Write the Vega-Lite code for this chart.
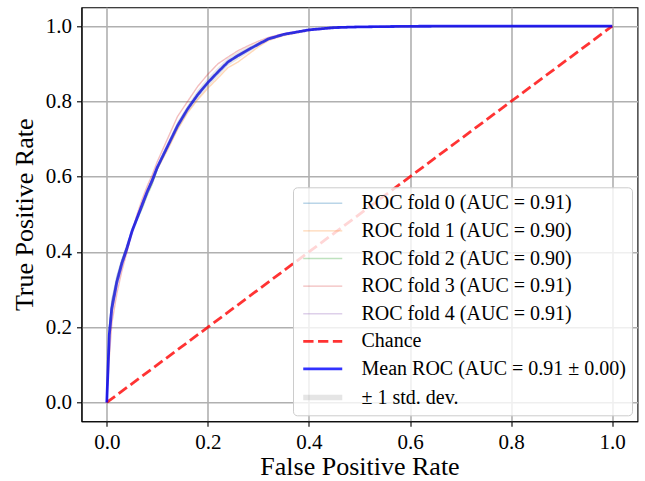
{
  "$schema": "https://vega.github.io/schema/vega-lite/v6.json",
  "width": 556,
  "height": 414,
  "autosize": {"type": "none"},
  "padding": {"left": 81.5, "top": 7.3, "right": 7.5, "bottom": 59.7},
  "datasets": {
    "roc": [
      {"x": 0, "f0": 0, "f1": 0, "f2": 0, "f3": 0, "f4": 0, "mean": 0, "lo": 0, "hi": 0},
      {"x": 0.005, "f0": 0.2, "f1": 0.17, "f2": 0.19, "f3": 0.12, "f4": 0.2, "mean": 0.18, "lo": 0.15, "hi": 0.21},
      {"x": 0.01, "f0": 0.27, "f1": 0.24, "f2": 0.26, "f3": 0.21, "f4": 0.27, "mean": 0.25, "lo": 0.225, "hi": 0.275},
      {"x": 0.02, "f0": 0.335, "f1": 0.32, "f2": 0.325, "f3": 0.29, "f4": 0.33, "mean": 0.32, "lo": 0.303, "hi": 0.337},
      {"x": 0.03, "f0": 0.38, "f1": 0.37, "f2": 0.375, "f3": 0.35, "f4": 0.38, "mean": 0.37, "lo": 0.358, "hi": 0.382},
      {"x": 0.04, "f0": 0.415, "f1": 0.405, "f2": 0.415, "f3": 0.4, "f4": 0.42, "mean": 0.41, "lo": 0.403, "hi": 0.417},
      {"x": 0.05, "f0": 0.46, "f1": 0.45, "f2": 0.455, "f3": 0.455, "f4": 0.46, "mean": 0.455, "lo": 0.451, "hi": 0.459},
      {"x": 0.06, "f0": 0.49, "f1": 0.49, "f2": 0.485, "f3": 0.5, "f4": 0.495, "mean": 0.49, "lo": 0.486, "hi": 0.494},
      {"x": 0.07, "f0": 0.53, "f1": 0.52, "f2": 0.515, "f3": 0.54, "f4": 0.53, "mean": 0.525, "lo": 0.518, "hi": 0.532},
      {"x": 0.08, "f0": 0.56, "f1": 0.555, "f2": 0.55, "f3": 0.575, "f4": 0.565, "mean": 0.56, "lo": 0.553, "hi": 0.567},
      {"x": 0.09, "f0": 0.595, "f1": 0.585, "f2": 0.58, "f3": 0.605, "f4": 0.595, "mean": 0.59, "lo": 0.582, "hi": 0.598},
      {"x": 0.1, "f0": 0.625, "f1": 0.62, "f2": 0.62, "f3": 0.64, "f4": 0.625, "mean": 0.625, "lo": 0.618, "hi": 0.632},
      {"x": 0.12, "f0": 0.68, "f1": 0.67, "f2": 0.678, "f3": 0.7, "f4": 0.68, "mean": 0.68, "lo": 0.67, "hi": 0.69},
      {"x": 0.14, "f0": 0.74, "f1": 0.725, "f2": 0.732, "f3": 0.76, "f4": 0.735, "mean": 0.735, "lo": 0.723, "hi": 0.747},
      {"x": 0.16, "f0": 0.78, "f1": 0.77, "f2": 0.78, "f3": 0.8, "f4": 0.78, "mean": 0.78, "lo": 0.77, "hi": 0.79},
      {"x": 0.18, "f0": 0.815, "f1": 0.805, "f2": 0.818, "f3": 0.84, "f4": 0.82, "mean": 0.818, "lo": 0.806, "hi": 0.83},
      {"x": 0.2, "f0": 0.85, "f1": 0.835, "f2": 0.85, "f3": 0.872, "f4": 0.85, "mean": 0.85, "lo": 0.838, "hi": 0.862},
      {"x": 0.22, "f0": 0.88, "f1": 0.862, "f2": 0.878, "f3": 0.9, "f4": 0.878, "mean": 0.878, "lo": 0.866, "hi": 0.89},
      {"x": 0.24, "f0": 0.905, "f1": 0.89, "f2": 0.905, "f3": 0.918, "f4": 0.905, "mean": 0.905, "lo": 0.895, "hi": 0.915},
      {"x": 0.26, "f0": 0.92, "f1": 0.905, "f2": 0.922, "f3": 0.935, "f4": 0.925, "mean": 0.922, "lo": 0.912, "hi": 0.932},
      {"x": 0.28, "f0": 0.938, "f1": 0.925, "f2": 0.938, "f3": 0.948, "f4": 0.94, "mean": 0.937, "lo": 0.929, "hi": 0.945},
      {"x": 0.3, "f0": 0.952, "f1": 0.945, "f2": 0.952, "f3": 0.96, "f4": 0.955, "mean": 0.952, "lo": 0.947, "hi": 0.957},
      {"x": 0.32, "f0": 0.965, "f1": 0.962, "f2": 0.966, "f3": 0.97, "f4": 0.967, "mean": 0.966, "lo": 0.963, "hi": 0.969},
      {"x": 0.35, "f0": 0.978, "f1": 0.975, "f2": 0.978, "f3": 0.98, "f4": 0.98, "mean": 0.978, "lo": 0.976, "hi": 0.98},
      {"x": 0.4, "f0": 0.99, "f1": 0.988, "f2": 0.99, "f3": 0.991, "f4": 0.99, "mean": 0.99, "lo": 0.989, "hi": 0.991},
      {"x": 0.45, "f0": 0.996, "f1": 0.995, "f2": 0.996, "f3": 0.996, "f4": 0.997, "mean": 0.996, "lo": 0.995, "hi": 0.997},
      {"x": 0.5, "f0": 0.998, "f1": 0.998, "f2": 0.998, "f3": 0.998, "f4": 0.998, "mean": 0.998, "lo": 0.998, "hi": 0.998},
      {"x": 0.6, "f0": 1, "f1": 0.999, "f2": 0.9995, "f3": 1, "f4": 0.9995, "mean": 0.9995, "lo": 0.999, "hi": 1},
      {"x": 0.7, "f0": 1, "f1": 1, "f2": 1, "f3": 1, "f4": 1, "mean": 1, "lo": 1, "hi": 1},
      {"x": 0.8, "f0": 1, "f1": 1, "f2": 1, "f3": 1, "f4": 1, "mean": 1, "lo": 1, "hi": 1},
      {"x": 1, "f0": 1, "f1": 1, "f2": 1, "f3": 1, "f4": 1, "mean": 1, "lo": 1, "hi": 1}
    ],
    "chance": [
      {"series": "chance", "x": 0, "tpr": 0},
      {"series": "chance", "x": 1, "tpr": 1}
    ]
  },
  "encoding": {
    "x": {"field": "x", "type": "quantitative", "scale": {"domain": [-0.05, 1.05], "nice": false, "zero": false},
          "axis": {"title": "False Positive Rate", "values": [0, 0.2, 0.4, 0.6, 0.8, 1.0], "format": ".1f", "titlePadding": 1}},
    "color": {
      "field": "series", "type": "nominal",
      "scale": {
        "domain": ["f0", "f1", "f2", "f3", "f4", "chance", "mean", "lo"],
        "range": ["#1f77b4", "#ff7f0e", "#2ca02c", "#d62728", "#9467bd", "#ff0000", "#0000ff", "#808080"]
      },
      "legend": {
        "orient": "none",
        "legendX": 211.5,
        "legendY": 180,
        "title": null,
        "symbolType": "M-1.92,0H11.08",
        "labelExpr": "{'f0':'ROC fold 0 (AUC = 0.91)','f1':'ROC fold 1 (AUC = 0.90)','f2':'ROC fold 2 (AUC = 0.90)','f3':'ROC fold 3 (AUC = 0.91)','f4':'ROC fold 4 (AUC = 0.91)','chance':'Chance','mean':'Mean ROC (AUC = 0.91 ± 0.00)','lo':'± 1 std. dev.'}[datum.value]"
      }
    },
    "opacity": {
      "field": "series", "type": "nominal",
      "scale": {
        "type": "ordinal",
        "domain": ["f0", "f1", "f2", "f3", "f4", "chance", "mean", "lo"],
        "range": [0.3, 0.3, 0.3, 0.3, 0.3, 0.8, 0.8, 0.2]
      }
    },
    "strokeWidth": {
      "field": "series", "type": "nominal",
      "scale": {
        "type": "ordinal",
        "domain": ["f0", "f1", "f2", "f3", "f4", "chance", "mean", "lo"],
        "range": [1.4, 1.4, 1.4, 1.4, 1.4, 2.8, 2.8, 5.5]
      }
    },
    "strokeDash": {
      "field": "series", "type": "nominal",
      "scale": {
        "domain": ["f0", "f1", "f2", "f3", "f4", "chance", "mean", "lo"],
        "range": [[1, 0], [1, 0], [1, 0], [1, 0], [1, 0], [10.3, 4.5], [1, 0], [1, 0]]
      }
    }
  },
  "layer": [
    {
      "data": {"name": "roc"},
      "transform": [{"fold": ["f0", "f1", "f2", "f3", "f4"], "as": ["series", "tpr"]}],
      "mark": {"type": "line"},
      "encoding": {
        "y": {"field": "tpr", "type": "quantitative", "scale": {"domain": [-0.05, 1.05], "nice": false, "zero": false},
              "axis": {"title": "True Positive Rate", "values": [0, 0.2, 0.4, 0.6, 0.8, 1.0], "format": ".1f", "titlePadding": 8}}
      }
    },
    {
      "data": {"name": "chance"},
      "mark": {"type": "line"},
      "encoding": {
        "y": {"field": "tpr", "type": "quantitative"}
      }
    },
    {
      "data": {"name": "roc"},
      "transform": [{"fold": ["mean"], "as": ["series", "tpr"]}],
      "mark": {"type": "line"},
      "encoding": {
        "y": {"field": "tpr", "type": "quantitative"}
      }
    },
    {
      "data": {"name": "roc"},
      "transform": [{"fold": ["lo"], "as": ["series", "lower"]}],
      "mark": {"type": "area"},
      "encoding": {
        "y": {"field": "lower", "type": "quantitative"},
        "y2": {"field": "hi"}
      }
    }
  ],
  "config": {
    "font": "Liberation Serif",
    "background": "white",
    "view": {"stroke": "black", "strokeWidth": 1.1},
    "axis": {
      "labelFont": "Liberation Serif", "labelFontSize": 21, "labelColor": "black",
      "titleFont": "Liberation Serif", "titleFontSize": 26, "titleFontWeight": "normal", "titleColor": "black",
      "gridColor": "#b0b0b0", "gridWidth": 1.6, "gridOpacity": 1,
      "domainColor": "black", "domainWidth": 1.1,
      "tickColor": "black", "tickWidth": 1.1, "tickSize": 5, "labelPadding": 5
    },
    "legend": {
      "labelFont": "Liberation Serif", "labelFontSize": 20, "labelColor": "black", "labelLimit": 0,
      "padding": 6, "rowPadding": 7.6, "symbolSize": 36, "labelOffset": 42.5,
      "fillColor": "rgba(255,255,255,0.8)", "strokeColor": "#cccccc", "cornerRadius": 4
    }
  }
}
